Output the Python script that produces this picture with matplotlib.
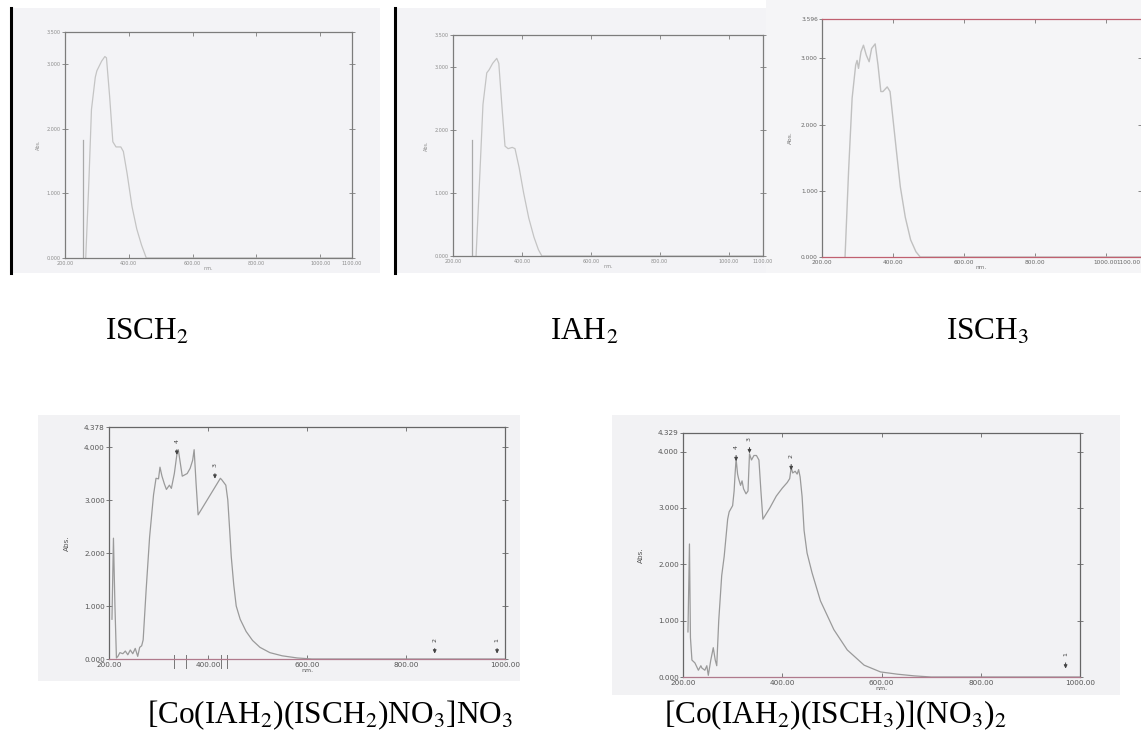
import matplotlib.pyplot as plt
from matplotlib.patches import Rectangle
from matplotlib.lines import Line2D

plt.rcParams['font.family'] = ['Liberation Serif', 'DejaVu Serif']
plt.rcParams['mathtext.fontset'] = 'stix'

W, H = 1141, 747

# ---- data (nm, Abs) ----
isch2_wl = [265, 275, 283, 295, 300, 305, 315, 325, 330, 340, 350, 360, 375, 383, 395, 410, 425, 440, 455, 1100]
isch2_ab = [0.0, 1.2, 2.3, 2.8, 2.9, 2.95, 3.05, 3.12, 3.1, 2.5, 1.8, 1.72, 1.72, 1.65, 1.3, 0.8, 0.45, 0.2, 0.0, 0.0]
isch2_spike = (256, 1.83)

iah2_wl = [267, 278, 287, 298, 305, 315, 327, 333, 343, 351, 360, 372, 380, 392, 405, 420, 435, 448, 458, 1100]
iah2_ab = [0.0, 1.3, 2.4, 2.9, 2.95, 3.05, 3.13, 3.05, 2.3, 1.74, 1.7, 1.72, 1.7, 1.4, 1.0, 0.6, 0.3, 0.1, 0.0, 0.0]
iah2_spike = (255, 1.84)

isch3_wl = [265, 275, 285, 295, 299, 303, 310, 317, 325, 333, 340, 350, 358, 366, 372, 384, 392, 400, 410, 421, 435, 450, 465, 477, 1100]
isch3_ab = [0.0, 1.3, 2.4, 2.9, 2.97, 2.85, 3.1, 3.2, 3.05, 2.95, 3.15, 3.22, 2.9, 2.5, 2.5, 2.57, 2.5, 2.1, 1.6, 1.06, 0.6, 0.26, 0.08, 0.0, 0.0]

co1_wl = [206, 209, 212, 215, 218, 222, 228, 233, 238, 243, 248, 253, 258, 262, 266, 269, 275, 282, 290, 295,
          300, 303, 307, 312, 316, 322, 326, 332, 337, 340, 344, 348, 352, 358, 364, 369, 372, 376, 380, 395,
          410, 425, 428, 432, 436, 440, 444, 447, 452, 457, 465, 477, 490, 505, 525, 550, 580, 610, 1000]
co1_ab = [0.75, 2.28, 1.0, 0.02, 0.05, 0.12, 0.1, 0.15, 0.08, 0.17, 0.1, 0.2, 0.05, 0.22, 0.25, 0.36, 1.3, 2.3, 3.1, 3.41,
          3.4, 3.62, 3.45, 3.3, 3.2, 3.28, 3.22, 3.5, 3.85, 3.95, 3.7, 3.45, 3.47, 3.5, 3.6, 3.75, 3.95, 3.3, 2.72, 2.95,
          3.18, 3.41, 3.38, 3.33, 3.28, 3.0, 2.4, 1.93, 1.4, 1.0, 0.75, 0.52, 0.35, 0.22, 0.12, 0.06, 0.02, 0.0, 0.0]
co1_marks = [331, 355, 426, 438]
co1_arrows = [(337, 4.0, '4'), (414, 3.55, '3'), (858, 0.25, '2'), (984, 0.25, '1')]

co2_wl = [210, 213, 215, 218, 224, 231, 236, 238, 244, 248, 251, 256, 261, 265, 268, 272, 278, 283, 290, 293,
          300, 303, 305, 307, 310, 312, 316, 319, 322, 327, 331, 334, 338, 343, 348, 353, 357, 361, 375, 388,
          400, 410, 415, 418, 421, 426, 430, 433, 436, 440, 444, 450, 460, 477, 504, 531, 565, 598, 632, 666, 700, 1000]
co2_ab = [0.8, 2.36, 0.7, 0.3, 0.25, 0.12, 0.2, 0.16, 0.12, 0.2, 0.03, 0.3, 0.52, 0.3, 0.2, 1.0, 1.8, 2.14, 2.8, 2.93,
          3.04, 3.3, 3.61, 3.87, 3.6, 3.52, 3.4, 3.48, 3.34, 3.25, 3.3, 3.96, 3.85, 3.93, 3.93, 3.85, 3.3, 2.8, 3.0, 3.21,
          3.35, 3.45, 3.52, 3.72, 3.62, 3.65, 3.6, 3.68, 3.55, 3.2, 2.6, 2.2, 1.85, 1.35, 0.84, 0.48, 0.21, 0.09, 0.05, 0.02, 0.0, 0.0]
co2_arrows = [(307, 3.98, '4'), (334, 4.12, '3'), (418, 3.82, '2'), (971, 0.3, '1')]

top_names = [r'ISCH$_2$', r'IAH$_2$', r'ISCH$_3$']
bottom_names = [r'[Co(IAH$_2$)(ISCH$_2$)NO$_3$]NO$_3$', r'[Co(IAH$_2$)(ISCH$_3$)](NO$_3$)$_2$']


fig = plt.figure(figsize=(W / 100, H / 100), dpi=100)
fig.patch.set_facecolor('white')


def px_axes(l, t, r, b):
    return fig.add_axes([l / W, 1 - b / H, (r - l) / W, (b - t) / H])


def scan_bg(l, t, r, b, col):
    fig.add_artist(Rectangle((l / W, 1 - b / H), (r - l) / W, (b - t) / H,
                             transform=fig.transFigure, facecolor=col, edgecolor='none', zorder=0))


def setup(ax, xmax, ymax, xt, fs, tcol, fcol):
    ax.set_facecolor('none')
    ax.set_xlim(200, xmax)
    ax.set_ylim(0, ymax)
    ax.set_xticks(xt)
    ax.set_xticklabels(['%.2f' % v for v in xt])
    yt = [0, 1, 2, 3, 4][:int(ymax) + 1] + [ymax]
    ax.set_yticks(yt)
    ax.set_yticklabels(['%.3f' % v for v in yt])
    ax.tick_params(axis='x', direction='in', top=True, length=3, width=0.6, colors=fcol,
                   labelsize=fs, labelcolor=tcol, pad=2)
    ax.tick_params(axis='y', direction='inout', right=True, length=4, width=0.6, colors=fcol,
                   labelsize=fs, labelcolor=tcol, pad=1)
    for s in ax.spines.values():
        s.set_color(fcol)
        s.set_linewidth(0.9)
    for lab in ax.get_xticklabels() + ax.get_yticklabels():
        lab.set_family('DejaVu Sans')


# ---- top row: three ligand spectra ----
scan_bg(12, 8, 380, 273, '#f3f3f6')
scan_bg(396, 8, 766, 273, '#f3f3f6')
scan_bg(766, 0, 1141, 273, '#f5f5f7')
fig.add_artist(Line2D([11 / W, 11 / W], [1 - 8 / H, 1 - 273 / H], color='black', lw=2.2))
fig.add_artist(Line2D([395 / W, 395 / W], [1 - 8 / H, 1 - 273 / H], color='black', lw=2.2))

ax1 = px_axes(65, 32, 352, 258)
setup(ax1, 1100, 3.5, [200, 400, 600, 800, 1000, 1100], 3.5, '#8c8c8c', '#7c7c7c')
ax1.plot(isch2_wl, isch2_ab, color='#c4c4c4', lw=0.9)
ax1.plot([isch2_spike[0]] * 2, [0, isch2_spike[1]], color='#aaaaaa', lw=0.9)
ax1.set_ylabel('Abs.', fontsize=3.5, color='#8c8c8c', family='DejaVu Sans', labelpad=4)
ax1.set_xlabel('nm.', fontsize=3.5, color='#8c8c8c', family='DejaVu Sans', labelpad=0)

ax2 = px_axes(453, 35, 763, 256)
setup(ax2, 1100, 3.5, [200, 400, 600, 800, 1000, 1100], 3.5, '#8c8c8c', '#7c7c7c')
ax2.plot(iah2_wl, iah2_ab, color='#c4c4c4', lw=0.9)
ax2.plot([iah2_spike[0]] * 2, [0, iah2_spike[1]], color='#aaaaaa', lw=0.9)
ax2.set_ylabel('Abs.', fontsize=3.5, color='#8c8c8c', family='DejaVu Sans', labelpad=4)
ax2.set_xlabel('nm.', fontsize=3.5, color='#8c8c8c', family='DejaVu Sans', labelpad=0)

ax3 = px_axes(822, 19, 1141, 257)
setup(ax3, 1100, 3.596, [200, 400, 600, 800, 1000, 1100], 4.2, '#666666', '#777777')
ax3.get_xticklabels()[-1].set_horizontalalignment('right')
ax3.spines['top'].set_color('#c06070')
ax3.spines['bottom'].set_color('#c06070')
ax3.spines['right'].set_visible(False)
ax3.plot(isch3_wl, isch3_ab, color='#c0c0c0', lw=1.0)
ax3.set_ylabel('Abs.', fontsize=4.2, color='#777777', family='DejaVu Sans', labelpad=6)
ax3.set_xlabel('nm.', fontsize=4.2, color='#777777', family='DejaVu Sans', labelpad=0)

for name, xc in zip(top_names, [147, 584, 988]):
    fig.text(xc / W, 1 - 332 / H, name, fontsize=22.5, ha='center', va='center')

# ---- bottom row: complexes ----
scan_bg(38, 415, 520, 681, '#f2f2f4')
scan_bg(612, 415, 1120, 695, '#f2f2f4')


def complex_panel(box, ymax, wl, ab, arrows, fs):
    ax = px_axes(*box)
    setup(ax, 1000, ymax, [200, 400, 600, 800, 1000], fs, '#555555', '#666666')
    ax.spines['bottom'].set_color('#b07a8c')
    ax.plot(wl, ab, color='#9a9a9a', lw=0.9)
    for x, y, lab in arrows:
        ax.annotate('', xy=(x, y - 0.2), xytext=(x, y),
                    arrowprops=dict(arrowstyle='-|>', color='#444444', lw=0.7, mutation_scale=5))
        ax.text(x, y + 0.07, lab, fontsize=4.5, color='#444444', ha='center', va='bottom',
                rotation=90, family='DejaVu Sans')
    ax.set_ylabel('Abs.', fontsize=5.2, color='#555555', family='DejaVu Sans', labelpad=10)
    ax.set_xlabel('nm.', fontsize=4.5, color='#555555', family='DejaVu Sans', labelpad=0)
    return ax


ax4 = complex_panel((109, 427, 505, 659), 4.378, co1_wl, co1_ab, co1_arrows, 5.2)
for m in co1_marks:
    ax4.plot([m, m], [-0.17, 0.08], color='#777777', lw=0.7, clip_on=False)

ax5 = complex_panel((683, 433, 1080, 677), 4.329, co2_wl, co2_ab, co2_arrows, 5.2)

for name, xc in zip(bottom_names, [330, 835]):
    fig.text(xc / W, 1 - 715 / H, name, fontsize=22.5, ha='center', va='center')

plt.savefig('out.png', dpi=100)
